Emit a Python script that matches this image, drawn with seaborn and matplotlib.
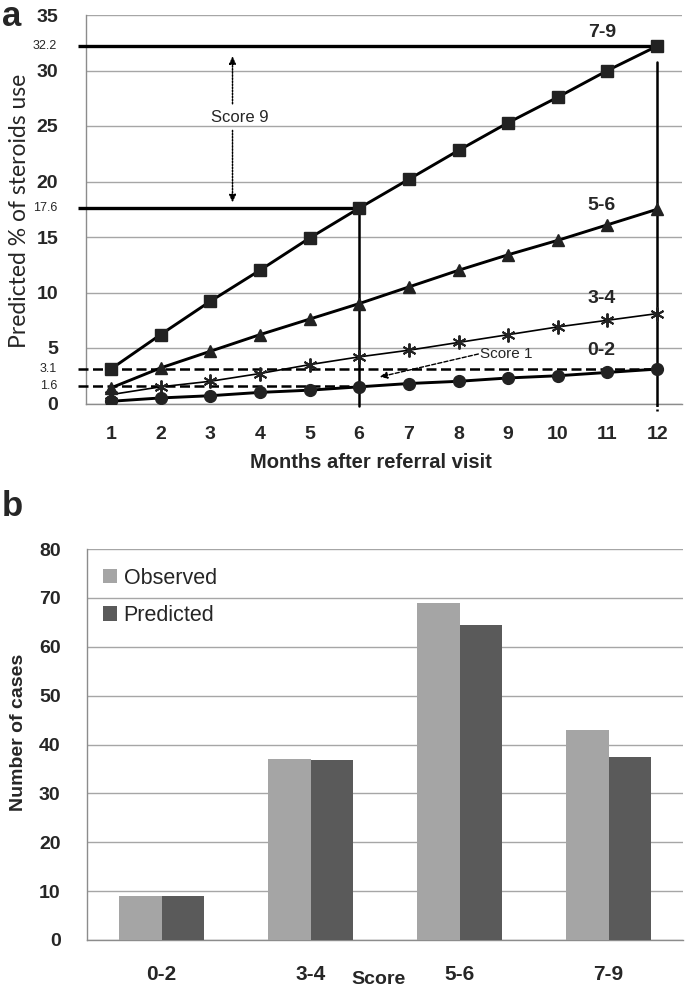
import numpy as np
import pandas as pd
import matplotlib
matplotlib.use('Agg')
import matplotlib.pyplot as plt
import seaborn as sns

# ---------------- data ----------------
months = list(range(1, 13))
score_0_2 = [0.2, 0.5, 0.7, 1.0, 1.2, 1.5, 1.8, 2.0, 2.3, 2.5, 2.8, 3.1]
score_3_4 = [0.8, 1.5, 2.0, 2.7, 3.5, 4.2, 4.8, 5.5, 6.2, 6.9, 7.5, 8.1]
score_5_6 = [1.4, 3.2, 4.7, 6.2, 7.6, 9.0, 10.5, 12.0, 13.4, 14.7, 16.1, 17.5]
score_7_9 = [3.1, 6.2, 9.2, 12.0, 14.9, 17.6, 20.2, 22.8, 25.3, 27.6, 30.0, 32.2]
series_names = ['0-2', '3-4', '5-6', '7-9']
series_values = [score_0_2, score_3_4, score_5_6, score_7_9]

ref_solid = [32.2, 17.6]     # Score 9 levels
ref_dashed = [3.1, 1.6]      # Score 1 levels
ref_solid_month = [12, 6]
ref_dashed_month = [12, 6]
yticks_a = [0, 5, 10, 15, 20, 25, 30, 35]

score_groups = ['0-2', '3-4', '5-6', '7-9']
observed = [9, 37, 69, 43]
predicted = [9, 36.8, 64.5, 37.4]
yticks_b = [0, 10, 20, 30, 40, 50, 60, 70, 80]

# ---------------- style ----------------
sns.set_style('white')
plt.rcParams['font.family'] = ['Liberation Sans', 'DejaVu Sans']

W, H = 685, 990
def fx(px):
    return px / W
def fy(py):
    return 1 - py / H

GRID = '#a6a6a6'
SPINE = '#8c8c8c'
MK = '#222222'

fig = plt.figure(figsize=(6.85, 9.9), dpi=100)

# ================= panel a =================
axA = fig.add_axes([fx(86), fy(403.5), fx(682) - fx(86), fy(15) - fy(403.5)])

df_a = pd.DataFrame({
    'month': months * 4,
    'pct': sum(series_values, []),
    'score': sum([[n] * 12 for n in series_names], []),
})

styles = {
    '0-2': dict(marker='o', markersize=8.5, linewidth=2.1),
    '3-4': dict(marker=(6, 2, 0), markersize=10, linewidth=1.2, markeredgewidth=1.4),
    '5-6': dict(marker='^', markersize=8, linewidth=2.1),
    '7-9': dict(marker='s', markersize=8, linewidth=2.1),
}
for name in series_names:
    sub = df_a[df_a['score'] == name]
    st = dict(styles[name])
    st.setdefault('markeredgewidth', 1.0)
    sns.lineplot(data=sub, x='month', y='pct', ax=axA, color='black',
                 markerfacecolor=MK, markeredgecolor=MK, errorbar=None,
                 zorder=4, **st)

axA.set_xlim(0.5, 12.5)
axA.set_ylim(0, 35)
axA.set_xlabel('')
axA.set_ylabel('')
axA.set_yticks(yticks_a)
axA.set_yticklabels([str(v) for v in yticks_a])
axA.set_xticks(np.arange(0.5, 13, 1))
axA.set_xticklabels([])
axA.set_xticks(months, minor=True)
axA.set_xticklabels([str(m) for m in months], minor=True)
axA.tick_params(axis='x', which='major', length=7, width=1, color=SPINE, direction='out')
axA.tick_params(axis='x', which='minor', length=0, pad=16, labelsize=14)
axA.tick_params(axis='y', length=8, width=1, color=SPINE, direction='out', pad=12, labelsize=14)
for lbl in axA.get_yticklabels() + axA.get_xticklabels(minor=True):
    lbl.set_fontweight('bold')
axA.yaxis.grid(True, color=GRID, lw=1)
axA.xaxis.grid(False)
axA.set_axisbelow(True)
for s in ['top', 'right']:
    axA.spines[s].set_visible(False)
for s in ['left', 'bottom']:
    axA.spines[s].set_color(SPINE)
    axA.spines[s].set_linewidth(1)

x0 = 0.5 - 8 / 49.7
# Score 9 reference lines
for v, m in zip(ref_solid, ref_solid_month):
    axA.plot([x0, m], [v, v], color='black', lw=2.4, clip_on=False,
             solid_capstyle='butt', zorder=3)
axA.plot([6, 6], [17.6, -0.25], color='black', lw=1.8, clip_on=False, zorder=3)
axA.plot([12, 12], [30.8, 0], color='black', lw=1.8, clip_on=False, zorder=3)
axA.plot([12, 12], [0, -0.7], color='black', lw=1.8, ls=(0, (1, 1)), clip_on=False, zorder=3)
# Score 1 reference lines
for v, m in zip(ref_dashed, ref_dashed_month):
    axA.plot([x0, m], [v, v], color='black', lw=1.8, ls=(0, (4, 1.8)),
             clip_on=False, zorder=3)

# small extra level labels
for v in ref_solid + ref_dashed:
    axA.text(-0.0487, v, f'{v}', transform=axA.get_yaxis_transform(),
             ha='right', va='center', fontsize=9)

# Score 9 annotation
axA.text(3.59, 25.8, 'Score 9', ha='center', va='center', fontsize=12)
arrow_kw = dict(arrowstyle='-|>,head_length=0.45,head_width=0.2', color='black',
                lw=1.1, linestyle=(0, (1, 1)), shrinkA=0, shrinkB=0)
axA.annotate('', xy=(3.45, 31.3), xytext=(3.45, 27.0), arrowprops=arrow_kw)
axA.annotate('', xy=(3.45, 18.1), xytext=(3.45, 24.6), arrowprops=arrow_kw)

# Score 1 annotation
axA.text(8.44, 4.46, 'Score 1', ha='left', va='center', fontsize=11)
axA.annotate('', xy=(6.41, 2.39), xytext=(8.40, 4.46),
             arrowprops=dict(arrowstyle='-|>,head_length=0.45,head_width=0.2',
                             color='black', lw=1.0, linestyle=(0, (3, 1.5)),
                             shrinkA=0, shrinkB=0))

# series labels
label_pos = {'7-9': (10.9, 33.4), '5-6': (10.88, 17.8), '3-4': (10.88, 9.5), '0-2': (10.88, 4.8)}
for name, (lx, ly) in label_pos.items():
    axA.text(lx, ly, name, ha='center', va='center', fontsize=14, fontweight='bold')

fig.text(fx(20), fy(211), 'Predicted % of steroids use', rotation=90,
         ha='center', va='center', fontsize=16.5, family=['Lato', 'DejaVu Sans'])
fig.text(fx(371), fy(462), 'Months after referral visit', ha='center', va='center',
         fontsize=14.5, fontweight='bold')
fig.text(fx(12), fy(26), 'a', ha='center', va='baseline', fontsize=25, fontweight='bold')

# ================= panel b =================
axB = fig.add_axes([fx(87), fy(940), fx(683) - fx(87), fy(549) - fy(940)])
df_b = pd.DataFrame({
    'score': score_groups * 2,
    'cases': observed + predicted,
    'type': ['Observed'] * 4 + ['Predicted'] * 4,
})
sns.barplot(data=df_b, x='score', y='cases', hue='type',
            palette=['#a5a5a5', '#5a5a5a'], width=0.57, gap=0,
            linewidth=0, ax=axB, zorder=3)
axB.set_ylim(0, 80)
axB.set_xlim(-0.5, 3.5)
axB.set_xlabel('')
axB.set_ylabel('')
axB.set_yticks(yticks_b)
axB.set_yticklabels([str(v) for v in yticks_b])
axB.set_xticks(np.arange(-0.5, 4, 1))
axB.set_xticklabels([])
axB.set_xticks([0, 1, 2, 3], minor=True)
axB.set_xticklabels(score_groups, minor=True)
axB.tick_params(axis='x', which='major', length=8, width=1, color=SPINE, direction='out')
axB.tick_params(axis='x', which='minor', length=0, pad=18, labelsize=15)
axB.tick_params(axis='y', length=7, width=1, color=SPINE, direction='out', pad=12, labelsize=14)
for lbl in axB.get_yticklabels() + axB.get_xticklabels(minor=True):
    lbl.set_fontweight('bold')
axB.yaxis.grid(True, color=GRID, lw=1)
axB.xaxis.grid(False)
axB.set_axisbelow(True)
for s in ['top', 'right']:
    axB.spines[s].set_visible(False)
for s in ['left', 'bottom']:
    axB.spines[s].set_color(SPINE)
    axB.spines[s].set_linewidth(1)

sns.move_legend(axB, 'upper left', bbox_to_anchor=(0.027, 0.952), frameon=False,
                title=None, fontsize=15.5, handlelength=0.65, handleheight=0.65,
                handletextpad=0.3, labelspacing=0.75, borderaxespad=0, borderpad=0)

fig.text(fx(19), fy(732), 'Number of cases', rotation=90, ha='center', va='center',
         fontsize=14, fontweight='bold')
fig.text(fx(379), fy(980), 'Score', ha='center', va='center', fontsize=14, fontweight='bold')
fig.text(fx(12), fy(506), 'b', ha='center', va='center', fontsize=25, fontweight='bold')

fig.savefig('out.png', dpi=100)
